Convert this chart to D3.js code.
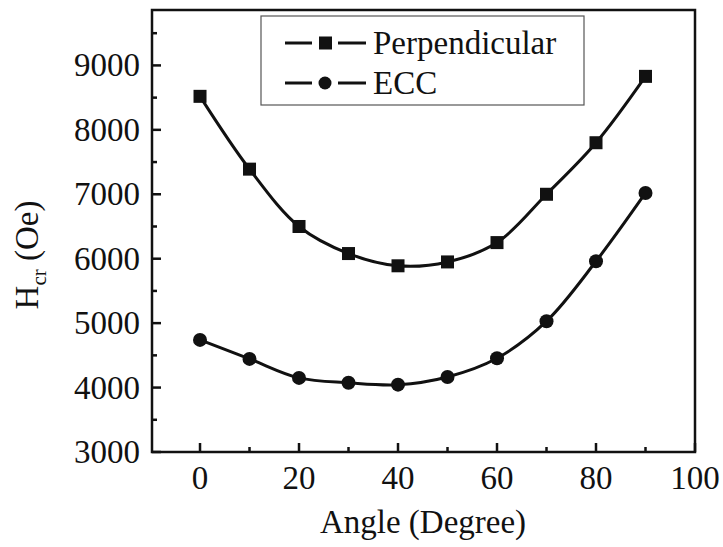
<!DOCTYPE html>
<html><head><meta charset="utf-8">
<script src="https://cdn.jsdelivr.net/npm/d3@7"></script>
</head><body style="margin:0"><svg id="c" width="723" height="547" style="display:block;font-family:'Times New Roman',Tinos,'Liberation Serif',serif"></svg>
<script>
const angles = [0,10,20,30,40,50,60,70,80,90];
const perpendicular = [8520,7390,6500,6080,5890,5950,6250,7000,7800,8830];
const ecc = [4740,4445,4150,4075,4045,4165,4455,5030,5960,7020];
const seriesNames = ["Perpendicular","ECC"];
const xTicks = [0,20,40,60,80,100];
const yTicks = [3000,4000,5000,6000,7000,8000,9000];

const svg = d3.select("#c");
const m = {l:152, t:10, r:695, b:452};
const x = d3.scaleLinear().domain([-9.7,100]).range([m.l,m.r]);
const y = d3.scaleLinear().domain([3000,9860]).range([m.b,m.t]);
const FS = 33;
const FAM = "'Times New Roman', Tinos, 'Liberation Serif', serif";
function txt(sel){ sel.attr("font-family",FAM).style("font-family",FAM).attr("font-size",FS).attr("fill","#111"); }

svg.append("rect").attr("x",m.l).attr("y",m.t).attr("width",m.r-m.l).attr("height",m.b-m.t)
  .attr("fill","none").attr("stroke","#111").attr("stroke-width",2.5);

const yMinor = d3.range(3500,9800,1000);
yTicks.forEach(d=>{
  svg.append("line").attr("x1",m.l).attr("x2",m.l+9).attr("y1",y(d)).attr("y2",y(d)).attr("stroke","#111").attr("stroke-width",2.5);
  svg.append("text").attr("x",m.l-12).attr("y",y(d)+11).attr("text-anchor","end").call(txt).text(d);
});
yMinor.forEach(d=>{
  svg.append("line").attr("x1",m.l).attr("x2",m.l+5).attr("y1",y(d)).attr("y2",y(d)).attr("stroke","#111").attr("stroke-width",2.5);
});

const xMinor = d3.range(10,100,20);
xTicks.forEach(d=>{
  svg.append("line").attr("x1",x(d)).attr("x2",x(d)).attr("y1",m.b).attr("y2",m.b-9).attr("stroke","#111").attr("stroke-width",2.5);
  svg.append("text").attr("x",x(d)).attr("y",m.b+37).attr("text-anchor","middle").call(txt).text(d);
});
xMinor.forEach(d=>{
  svg.append("line").attr("x1",x(d)).attr("x2",x(d)).attr("y1",m.b).attr("y2",m.b-5).attr("stroke","#111").attr("stroke-width",2.5);
});

svg.append("text").attr("x",423).attr("y",533).attr("text-anchor","middle").call(txt).text("Angle (Degree)");
const yl = svg.append("text").attr("transform","translate(38,255) rotate(-90)").attr("text-anchor","middle").call(txt);
yl.append("tspan").text("H");
yl.append("tspan").attr("font-size",21).attr("dy",8).text("cr");
yl.append("tspan").attr("dy",-8).text(" (Oe)");

const line = d3.line().x((d,i)=>x(angles[i])).y(d=>y(d)).curve(d3.curveCatmullRom.alpha(0.5));
[perpendicular, ecc].forEach((vals,k)=>{
  svg.append("path").attr("d",line(vals)).attr("fill","none").attr("stroke","#111").attr("stroke-width",3);
  vals.forEach((d,i)=>{
    if(k===0) svg.append("rect").attr("x",x(angles[i])-6.5).attr("y",y(d)-6.5).attr("width",13).attr("height",13).attr("fill","#111");
    else svg.append("circle").attr("cx",x(angles[i])).attr("cy",y(d)).attr("r",7).attr("fill","#111");
  });
});

svg.append("rect").attr("x",261).attr("y",16).attr("width",323).attr("height",89)
  .attr("fill","#fff").attr("stroke","#555").attr("stroke-width",1.2);
seriesNames.forEach((name,k)=>{
  const cy = 43 + k*40;
  svg.append("line").attr("x1",285).attr("x2",312).attr("y1",cy).attr("y2",cy).attr("stroke","#111").attr("stroke-width",3);
  svg.append("line").attr("x1",338).attr("x2",366).attr("y1",cy).attr("y2",cy).attr("stroke","#111").attr("stroke-width",3);
  if(k===0) svg.append("rect").attr("x",319).attr("y",cy-6.5).attr("width",13).attr("height",13).attr("fill","#111");
  else svg.append("circle").attr("cx",325).attr("cy",cy).attr("r",6.5).attr("fill","#111");
  svg.append("text").attr("x",373).attr("y",cy+11).call(txt).text(name);
});
</script></body></html>
